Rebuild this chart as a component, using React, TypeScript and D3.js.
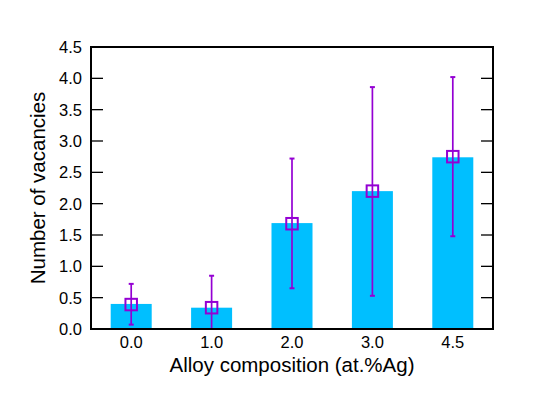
import { useEffect, useRef } from 'react';
import * as d3 from 'd3';

const categories = ['0.0', '1.0', '2.0', '3.0', '4.5'];
const barValues = [0.4, 0.34, 1.69, 2.2, 2.74];
const pointValues = [0.39, 0.34, 1.68, 2.2, 2.75];
const errLow = [0.07, -0.1, 0.65, 0.53, 1.48];
const errHigh = [0.72, 0.85, 2.72, 3.86, 4.02];
const yTicks = [0, 0.5, 1, 1.5, 2, 2.5, 3, 3.5, 4, 4.5];

const App = () => {
    const svgRef = useRef<SVGSVGElement>(null);

    useEffect(() => {
        const svg = d3.select(svgRef.current);
        svg.selectAll('*').remove();

        const margin = { top: 47, right: 40, bottom: 83, left: 91 };
        const width = 533 - margin.left - margin.right;
        const height = 412 - margin.top - margin.bottom;
        const font = 'Liberation Sans, Arial, sans-serif';

        // inner 0.49, outer half of that -> equal spacing across the frame
        const x = d3.scaleBand().domain(categories).range([0, width])
            .paddingInner(0.49).paddingOuter(0.245);
        const y = d3.scaleLinear().domain([0, 4.5]).range([height, 0]);

        const g = svg.append('g').attr('transform', `translate(${margin.left},${margin.top})`);

        const defs = svg.append('defs');
        defs.append('clipPath').attr('id', 'plot-clip')
            .append('rect').attr('width', width).attr('height', height);

        // bars
        g.selectAll('.bar')
            .data(categories)
            .enter().append('rect')
            .attr('x', d => x(d)!)
            .attr('y', (d, i) => y(barValues[i]))
            .attr('width', x.bandwidth())
            .attr('height', (d, i) => height - y(barValues[i]))
            .attr('fill', '#00bfff');

        // error bars
        const eg = g.append('g').attr('clip-path', 'url(#plot-clip)');
        const cx = (d: string) => x(d)! + x.bandwidth() / 2;
        eg.selectAll('.err')
            .data(categories)
            .enter().append('line')
            .attr('x1', cx).attr('x2', cx)
            .attr('y1', (d, i) => y(errLow[i]))
            .attr('y2', (d, i) => y(errHigh[i]))
            .attr('stroke', '#9400d3')
            .attr('stroke-width', 1.7);
        [errLow, errHigh].forEach(arr => {
            eg.selectAll(null)
                .data(categories)
                .enter().append('line')
                .attr('x1', d => cx(d) - 2.5).attr('x2', d => cx(d) + 2.5)
                .attr('y1', (d, i) => y(arr[i]))
                .attr('y2', (d, i) => y(arr[i]))
                .attr('stroke', '#9400d3')
                .attr('stroke-width', 2);
        });

        // square markers
        const s = 11.5;
        g.selectAll('.pt')
            .data(categories)
            .enter().append('rect')
            .attr('x', d => cx(d) - s / 2)
            .attr('y', (d, i) => y(pointValues[i]) - s / 2)
            .attr('width', s).attr('height', s)
            .attr('fill', 'none')
            .attr('stroke', '#9400d3')
            .attr('stroke-width', 2);

        // ticks inward, left and right
        yTicks.forEach(t => {
            if (t === 0 || t === 4.5) return;
            g.append('line').attr('x1', 0).attr('x2', 12).attr('y1', y(t)).attr('y2', y(t))
                .attr('stroke', '#000').attr('stroke-width', 1.3);
            g.append('line').attr('x1', width - 12).attr('x2', width).attr('y1', y(t)).attr('y2', y(t))
                .attr('stroke', '#000').attr('stroke-width', 1.3);
        });

        // frame
        g.append('rect').attr('width', width).attr('height', height)
            .attr('fill', 'none').attr('stroke', '#000').attr('stroke-width', 2);

        // y tick labels
        g.selectAll('.yl')
            .data(yTicks)
            .enter().append('text')
            .attr('x', -9)
            .attr('y', d => y(d))
            .attr('dy', '0.36em')
            .attr('text-anchor', 'end')
            .attr('font-family', font)
            .attr('font-size', 16.5)
            .text(d => d.toFixed(1));

        // x tick labels
        g.selectAll('.xl')
            .data(categories)
            .enter().append('text')
            .attr('x', cx)
            .attr('y', height + 19)
            .attr('text-anchor', 'middle')
            .attr('font-family', font)
            .attr('font-size', 16.5)
            .text(d => d);

        // axis titles
        g.append('text')
            .attr('x', width / 2)
            .attr('y', height + 43)
            .attr('text-anchor', 'middle')
            .attr('font-family', font)
            .attr('font-size', 20.5)
            .text('Alloy composition (at.%Ag)');

        g.append('text')
            .attr('transform', `translate(-46,${height / 2}) rotate(-90)`)
            .attr('text-anchor', 'middle')
            .attr('font-family', font)
            .attr('font-size', 20.5)
            .text('Number of vacancies');
    }, []);

    return (
        <svg ref={svgRef} width={533} height={412}
            style={{ position: 'absolute', left: 0, top: 0, background: '#fff' }} />
    );
};

export default App;
